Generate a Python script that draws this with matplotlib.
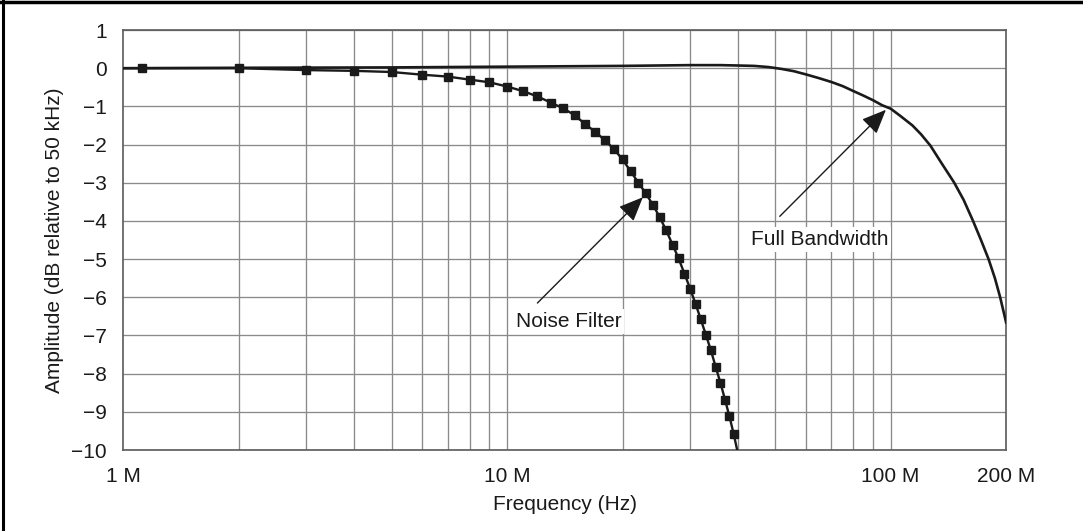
import matplotlib
matplotlib.use("Agg")
import matplotlib.pyplot as plt
from matplotlib.lines import Line2D
from matplotlib.ticker import FixedLocator, NullLocator

plt.rcParams["font.family"] = ["Liberation Sans", "DejaVu Sans"]

# noise filter curve (MHz, dB); markers at every point except the first and last
nf_freq = [1.0, 1.12, 2, 3, 4, 5, 6, 7, 8, 9, 10, 11, 12, 13, 14, 15, 16, 17, 18, 19, 20,
           21, 22, 23, 24, 25, 26, 27, 28, 29, 30, 31, 32, 33, 34, 35, 36, 37, 38, 39, 39.8]
nf_db = [0.0, 0.0, 0.0, -0.05, -0.07, -0.10, -0.17, -0.22, -0.30, -0.37, -0.48, -0.60,
         -0.74, -0.90, -1.05, -1.23, -1.47, -1.67, -1.89, -2.12, -2.39, -2.70, -3.00,
         -3.28, -3.58, -3.90, -4.25, -4.62, -4.98, -5.38, -5.77, -6.17, -6.58, -6.99,
         -7.39, -7.83, -8.24, -8.68, -9.12, -9.59, -10.0]

# full bandwidth curve (MHz, dB)
fb_freq = [1, 2, 5, 10, 20, 30, 36, 40, 44, 48, 52, 56, 60, 65, 70, 75, 80, 85, 90, 95,
           100, 106, 114, 120, 127, 135, 146.5, 155, 164, 172, 180, 187, 193, 200]
fb_db = [0.0, 0.01, 0.02, 0.04, 0.06, 0.08, 0.08, 0.07, 0.06, 0.03, -0.02, -0.08,
         -0.16, -0.26, -0.36, -0.47, -0.60, -0.72, -0.84, -0.97, -1.06, -1.25, -1.50,
         -1.73, -2.03, -2.45, -3.00, -3.45, -4.00, -4.50, -5.00, -5.50, -6.00, -6.66]

x_ticks = [1, 10, 100, 200]
x_labels = ["1 M", "10 M", "100 M", "200 M"]
x_grid = [2, 3, 4, 5, 6, 7, 8, 9, 10, 20, 30, 40, 50, 60, 70, 80, 90, 100]
y_ticks = list(range(-10, 2))

INK = "#1a1a1a"
GRID = "#8a8a8a"
FS = 15

fig = plt.figure(figsize=(10.83, 5.31), dpi=100)
ax = fig.add_axes([0.114, 0.1525, 0.815, 0.791])

ax.set_xscale("log")
ax.set_xlim(1, 200)
ax.set_ylim(-10, 1)

ax.xaxis.set_major_locator(FixedLocator(x_ticks))
ax.xaxis.set_minor_locator(NullLocator())
ax.set_xticklabels(x_labels)
ax.set_yticks(y_ticks)
ax.tick_params(axis="both", length=0, labelsize=FS, colors=INK)
ax.tick_params(axis="x", pad=12)
ax.tick_params(axis="y", pad=12)

for xv in x_grid:
    ax.axvline(xv, color=GRID, lw=0.95, zorder=1)
for yv in y_ticks:
    ax.axhline(yv, color=GRID, lw=0.95, zorder=1)
for sp in ax.spines.values():
    sp.set_color("#5a5a5a")
    sp.set_linewidth(1.2)

ax.plot(fb_freq, fb_db, color=INK, lw=1.9, zorder=3)
ax.plot(nf_freq, nf_db, color=INK, lw=1.7, zorder=3,
        marker="s", markersize=5.8, markevery=list(range(1, len(nf_freq) - 1)))

ax.set_xlabel("Frequency (Hz)", fontsize=FS, color=INK, labelpad=7)
ax.set_ylabel("Amplitude (dB relative to 50 kHz)", fontsize=FS, color=INK, labelpad=5)

arrow = dict(arrowstyle="-|>,head_length=0.75,head_width=0.32", color=INK, lw=1.0,
             shrinkA=0, shrinkB=0, mutation_scale=20)
ax.annotate("", xy=(22.6, -3.38), xytext=(12.0, -6.15), arrowprops=arrow, zorder=4)
ax.annotate("", xy=(97.2, -1.09), xytext=(51.4, -3.88), arrowprops=arrow, zorder=4)

box = dict(facecolor="white", edgecolor="none", pad=2)
ax.text(14.5, -6.63, "Noise Filter", fontsize=FS, color=INK, ha="center", va="center",
        bbox=box, zorder=5)
ax.text(65.4, -4.49, "Full Bandwidth", fontsize=FS, color=INK, ha="center", va="center",
        bbox=box, zorder=5)

# frame of the screenshot: top and left edges only
fig.add_artist(Line2D([0.0025, 0.0025], [0, 1], color="black", lw=2.2,
                      transform=fig.transFigure))
fig.add_artist(Line2D([0, 1], [0.997, 0.997], color="black", lw=2.5,
                      transform=fig.transFigure))

fig.savefig("out.png", dpi=100)
